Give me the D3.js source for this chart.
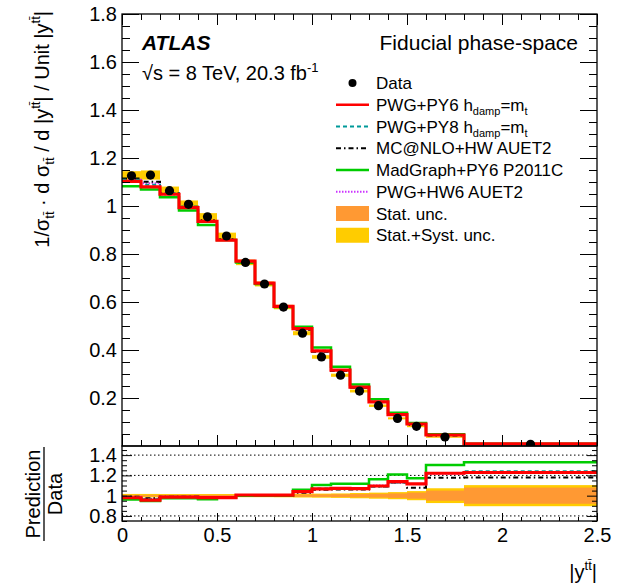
<!DOCTYPE html>
<html><head><meta charset="utf-8">
<script src="https://cdn.jsdelivr.net/npm/d3@7"></script>
<style>
body{margin:0;background:#fff}
svg{display:block}
text{font-family:"Liberation Sans",Arial,Helvetica,sans-serif;fill:#000}
</style></head>
<body><svg id="c" width="633" height="584"></svg>
<script>
// ---- data ----
const binEdges = [0,0.1,0.2,0.3,0.4,0.5,0.6,0.7,0.8,0.9,1.0,1.1,1.2,1.3,1.4,1.5,1.6,1.8,2.5];
const dataVals = [1.126,1.129,1.064,1.007,0.955,0.875,0.765,0.675,0.579,0.470,0.371,0.295,0.229,0.168,0.115,0.082,0.0375,0.0070];
const statUnc  = [0.008,0.008,0.008,0.008,0.008,0.008,0.008,0.009,0.010,0.011,0.012,0.014,0.016,0.018,0.022,0.030,0.050,0.080];
const totUnc   = [0.017,0.017,0.016,0.016,0.016,0.016,0.015,0.015,0.016,0.018,0.020,0.022,0.026,0.030,0.035,0.045,0.073,0.104];
const pwgPy6   = [1.103,1.080,1.049,0.993,0.936,0.858,0.770,0.679,0.582,0.489,0.396,0.316,0.245,0.184,0.131,0.0916,0.0458,0.0086];
const pwgPy8   = [1.109,1.089,1.053,0.997,0.938,0.859,0.769,0.678,0.582,0.489,0.397,0.316,0.245,0.183,0.130,0.0914,0.0459,0.00868];
const mcnloHw  = [1.115,1.101,1.053,0.997,0.941,0.862,0.765,0.675,0.579,0.484,0.393,0.313,0.243,0.183,0.130,0.0884,0.0441,0.00825];
const madPy6   = [1.082,1.069,1.036,0.981,0.921,0.858,0.765,0.675,0.579,0.497,0.410,0.330,0.256,0.195,0.139,0.0961,0.0488,0.0093];
const pwgHw6   = [1.109,1.095,1.048,0.992,0.936,0.858,0.768,0.678,0.581,0.489,0.395,0.315,0.245,0.185,0.130,0.0914,0.0456,0.00858];
const mainYTicks = [0.2,0.4,0.6,0.8,1.0,1.2,1.4,1.6,1.8];
const ratioYTicks = [0.8,1.0,1.2,1.4];
const xTicks = [0,0.5,1,1.5,2,2.5];

const models = [
  {name:"PWG+HW6 AUET2", vals:pwgHw6, color:"#cc33ff", width:2, dash:"1.5,1.5"},
  {name:"MC@NLO+HW AUET2", vals:mcnloHw, color:"#000000", width:2, dash:"5,3,1.5,3"},
  {name:"PWG+PY8", vals:pwgPy8, color:"#009999", width:2, dash:"4,3"},
  {name:"MadGraph+PY6 P2011C", vals:madPy6, color:"#00cc00", width:2.5, dash:null},
  {name:"PWG+PY6", vals:pwgPy6, color:"#ff0000", width:3.2, dash:null}
];
const colStat = "#ff9933", colTot = "#ffcc00";

// ---- layout ----
const L=122, R=597, T=14, MB=446, RB=521;
const svg = d3.select("#c");
const x = d3.scaleLinear().domain([0,2.5]).range([L,R]);
const y = d3.scaleLinear().domain([0,1.8]).range([MB,T]);
const yr = d3.scaleLinear().domain([0.75,1.49]).range([RB,MB]);

const defs = svg.append("defs");
defs.append("clipPath").attr("id","cm").append("rect").attr("x",L).attr("y",T).attr("width",R-L).attr("height",MB-T);
defs.append("clipPath").attr("id","cr").append("rect").attr("x",L).attr("y",MB).attr("width",R-L).attr("height",RB-MB);

const bins = dataVals.map((d,i)=>({i, x0:binEdges[i], x1:binEdges[i+1], d}));

function stepPts(vals){
  const pts=[];
  vals.forEach((v,i)=>{pts.push([binEdges[i],v]);pts.push([binEdges[i+1],v]);});
  return pts;
}

// ---- main panel ----
const gm = svg.append("g").attr("clip-path","url(#cm)");
gm.selectAll("rect.stat").data(bins).join("rect")
  .attr("x",b=>x(b.x0)).attr("width",b=>x(b.x1)-x(b.x0))
  .attr("y",b=>y(b.d*(1+statUnc[b.i]))).attr("height",b=>y(b.d*(1-statUnc[b.i]))-y(b.d*(1+statUnc[b.i])))
  .attr("fill",colStat);
gm.selectAll("rect.tot").data(bins).join("rect")
  .attr("x",b=>x(b.x0)).attr("width",b=>x(b.x1)-x(b.x0))
  .attr("y",b=>y(b.d*(1+totUnc[b.i]))).attr("height",b=>y(b.d*(1-totUnc[b.i]))-y(b.d*(1+totUnc[b.i])))
  .attr("fill",colTot);
const lineM = d3.line().x(p=>x(p[0])).y(p=>y(p[1]));
models.forEach(m=>{
  gm.append("path").attr("d",lineM(stepPts(m.vals))).attr("fill","none")
    .attr("stroke",m.color).attr("stroke-width",m.width).attr("stroke-dasharray",m.dash);
});
gm.selectAll("circle").data(bins).join("circle")
  .attr("cx",b=>x((b.x0+b.x1)/2)).attr("cy",b=>y(b.d)).attr("r",4.6).attr("fill","#000");

// ---- ratio panel ----
const gr = svg.append("g").attr("clip-path","url(#cr)");
[0.8,1.0,1.2,1.4].forEach(v=>{
  gr.append("line").attr("x1",L).attr("x2",R).attr("y1",yr(v)).attr("y2",yr(v))
    .attr("stroke","#000").attr("stroke-width",1).attr("stroke-dasharray","1.5,2.5");
});
gr.selectAll("rect.tot").data(bins).join("rect")
  .attr("x",b=>x(b.x0)).attr("width",b=>x(b.x1)-x(b.x0))
  .attr("y",b=>yr(1+totUnc[b.i])).attr("height",b=>yr(1-totUnc[b.i])-yr(1+totUnc[b.i]))
  .attr("fill",colTot);
gr.selectAll("rect.stat").data(bins).join("rect")
  .attr("x",b=>x(b.x0)).attr("width",b=>x(b.x1)-x(b.x0))
  .attr("y",b=>yr(1+statUnc[b.i])).attr("height",b=>yr(1-statUnc[b.i])-yr(1+statUnc[b.i]))
  .attr("fill",colStat);
const lineR = d3.line().x(p=>x(p[0])).y(p=>yr(p[1]));
models.forEach(m=>{
  const ratio = m.vals.map((v,i)=>v/dataVals[i]);
  gr.append("path").attr("d",lineR(stepPts(ratio))).attr("fill","none")
    .attr("stroke",m.color).attr("stroke-width",m.width).attr("stroke-dasharray",m.dash);
});

// ---- axes ----
function minorVals(lo,hi,step,majors){
  const out=[];
  for(let k=Math.round(lo/step);k<=Math.round(hi/step);k++){
    const v=+(k*step).toFixed(4);
    if(!majors.some(m=>Math.abs(m-v)<1e-6)) out.push(v);
  }
  return out;
}
const fmt = d=>String(+d.toFixed(2));
function styleAxis(g,fs){
  g.select(".domain").remove();
  g.selectAll("line").attr("stroke","#000").attr("stroke-width",1);
  g.selectAll("text").style("font-family",'"Liberation Sans",Arial,sans-serif').style("font-size",fs+"px").attr("fill","#000");
}
// main y
svg.append("g").attr("transform",`translate(${L},0)`)
  .call(d3.axisLeft(y).tickValues(mainYTicks).tickSizeInner(-17).tickSizeOuter(0).tickPadding(5).tickFormat(fmt))
  .call(g=>styleAxis(g,20));
svg.append("g").attr("transform",`translate(${L},0)`)
  .call(d3.axisLeft(y).tickValues(minorVals(0,1.8,0.05,mainYTicks.concat([0]))).tickSizeInner(-8).tickSizeOuter(0).tickFormat(""))
  .call(g=>styleAxis(g,20));
svg.append("g").attr("transform",`translate(${R},0)`)
  .call(d3.axisRight(y).tickValues(mainYTicks).tickSizeInner(-17).tickSizeOuter(0).tickFormat(""))
  .call(g=>styleAxis(g,20));
svg.append("g").attr("transform",`translate(${R},0)`)
  .call(d3.axisRight(y).tickValues(minorVals(0,1.8,0.05,mainYTicks.concat([0]))).tickSizeInner(-8).tickSizeOuter(0).tickFormat(""))
  .call(g=>styleAxis(g,20));
// main x (bottom & top)
const xMinor = minorVals(0,2.5,0.1,xTicks);
svg.append("g").attr("transform",`translate(0,${MB})`)
  .call(d3.axisBottom(x).tickValues(xTicks).tickSizeInner(-11).tickSizeOuter(0).tickFormat(""))
  .call(g=>styleAxis(g,20));
svg.append("g").attr("transform",`translate(0,${MB})`)
  .call(d3.axisBottom(x).tickValues(xMinor).tickSizeInner(-6).tickSizeOuter(0).tickFormat(""))
  .call(g=>styleAxis(g,20));
svg.append("g").attr("transform",`translate(0,${T})`)
  .call(d3.axisTop(x).tickValues(xTicks).tickSizeInner(-11).tickSizeOuter(0).tickFormat(""))
  .call(g=>styleAxis(g,20));
svg.append("g").attr("transform",`translate(0,${T})`)
  .call(d3.axisTop(x).tickValues(xMinor).tickSizeInner(-6).tickSizeOuter(0).tickFormat(""))
  .call(g=>styleAxis(g,20));
// ratio y
const rMinor = minorVals(0.75,1.45,0.05,ratioYTicks);
svg.append("g").attr("transform",`translate(${L},0)`)
  .call(d3.axisLeft(yr).tickValues(ratioYTicks).tickSizeInner(-10).tickSizeOuter(0).tickPadding(5).tickFormat(fmt))
  .call(g=>styleAxis(g,20));
svg.append("g").attr("transform",`translate(${L},0)`)
  .call(d3.axisLeft(yr).tickValues(rMinor).tickSizeInner(-5).tickSizeOuter(0).tickFormat(""))
  .call(g=>styleAxis(g,20));
svg.append("g").attr("transform",`translate(${R},0)`)
  .call(d3.axisRight(yr).tickValues(ratioYTicks).tickSizeInner(-10).tickSizeOuter(0).tickFormat(""))
  .call(g=>styleAxis(g,20));
svg.append("g").attr("transform",`translate(${R},0)`)
  .call(d3.axisRight(yr).tickValues(rMinor).tickSizeInner(-5).tickSizeOuter(0).tickFormat(""))
  .call(g=>styleAxis(g,20));
// ratio x
svg.append("g").attr("transform",`translate(0,${RB})`)
  .call(d3.axisBottom(x).tickValues(xTicks).tickSizeInner(-8).tickSizeOuter(0).tickPadding(7).tickFormat(fmt))
  .call(g=>styleAxis(g,20));
svg.append("g").attr("transform",`translate(0,${RB})`)
  .call(d3.axisBottom(x).tickValues(xMinor).tickSizeInner(-4).tickSizeOuter(0).tickFormat(""))
  .call(g=>styleAxis(g,20));

// frames
svg.append("rect").attr("x",L).attr("y",T).attr("width",R-L).attr("height",MB-T).attr("fill","none").attr("stroke","#000").attr("stroke-width",1.3);
svg.append("rect").attr("x",L).attr("y",MB).attr("width",R-L).attr("height",RB-MB).attr("fill","none").attr("stroke","#000").attr("stroke-width",1.3);

// ---- titles ----
const TT = "tt\u0304";
// y title main
const yt = svg.append("text").attr("transform","translate(49,11) rotate(-90)").attr("text-anchor","end").style("font-size","20px");
yt.append("tspan").text("1/σ");
yt.append("tspan").attr("dy",5).style("font-size","13px").text(TT);
yt.append("tspan").attr("dy",-5).text(" · d σ");
yt.append("tspan").attr("dy",5).style("font-size","13px").text(TT);
yt.append("tspan").attr("dy",-5).text(" / d |y");
yt.append("tspan").attr("dy",-9).style("font-size","13px").text(TT);
yt.append("tspan").attr("dy",9).text("| / Unit |y");
yt.append("tspan").attr("dy",-9).style("font-size","13px").text(TT);
yt.append("tspan").attr("dy",9).text("|");
// ratio y title
svg.append("text").attr("transform","translate(40,494) rotate(-90)").attr("text-anchor","middle").style("font-size","20px").text("Prediction");
svg.append("text").attr("transform","translate(62,494) rotate(-90)").attr("text-anchor","middle").style("font-size","20px").text("Data");
svg.append("line").attr("x1",44).attr("x2",44).attr("y1",447).attr("y2",541).attr("stroke","#000").attr("stroke-width",1.3);
// x title
const xt = svg.append("text").attr("x",597).attr("y",579).attr("text-anchor","end").style("font-size","20px");
xt.append("tspan").text("|y");
xt.append("tspan").attr("dy",-9).style("font-size","13px").text(TT);
xt.append("tspan").attr("dy",9).text("|");

// ATLAS labels
svg.append("text").attr("x",142).attr("y",50).style("font-size","21px").style("font-weight","bold").style("font-style","italic").text("ATLAS");
const en = svg.append("text").attr("x",142).attr("y",80).style("font-size","20px");
en.append("tspan").text("√s = 8 TeV, 20.3 fb");
en.append("tspan").attr("dy",-8).style("font-size","13px").text("-1");
svg.append("text").attr("x",578).attr("y",50).attr("text-anchor","end").style("font-size","21px").text("Fiducial phase-space");

// ---- legend ----
const lg = svg.append("g");
const ly0 = 83, ldy = 21.75, lx0 = 336, lx1 = 369, ltx = 376;
const legendItems = [
  {type:"dot", label:[["Data"]]},
  {type:"line", m:models[4], label:[["PWG+PY6 h"],["damp","sub"],["=m"],["t","sub"]]},
  {type:"line", m:models[2], label:[["PWG+PY8 h"],["damp","sub"],["=m"],["t","sub"]]},
  {type:"line", m:models[1], label:[["MC@NLO+HW AUET2"]]},
  {type:"line", m:models[3], label:[["MadGraph+PY6 P2011C"]]},
  {type:"line", m:models[0], label:[["PWG+HW6 AUET2"]]},
  {type:"box", color:colStat, label:[["Stat. unc."]]},
  {type:"box", color:colTot, label:[["Stat.+Syst. unc."]]}
];
legendItems.forEach((it,k)=>{
  const cy = ly0 + k*ldy;
  if(it.type==="dot") lg.append("circle").attr("cx",(lx0+lx1)/2).attr("cy",cy).attr("r",4).attr("fill","#000");
  if(it.type==="line") lg.append("line").attr("x1",lx0).attr("x2",lx1).attr("y1",cy).attr("y2",cy)
      .attr("stroke",it.m.color).attr("stroke-width",Math.min(it.m.width,2.5)).attr("stroke-dasharray",it.m.dash);
  if(it.type==="box") lg.append("rect").attr("x",lx0).attr("y",cy-7.5).attr("width",lx1-lx0).attr("height",15).attr("fill",it.color);
  const t = lg.append("text").attr("x",ltx).attr("y",cy+6).style("font-size","17px");
  let prevSub=false;
  it.label.forEach(([s,kind])=>{
    const sp = t.append("tspan").text(s);
    if(kind==="sub"){ sp.style("font-size","11px").attr("dy",prevSub?0:4); prevSub=true; }
    else { if(prevSub) sp.attr("dy",-4); prevSub=false; }
  });
});
</script>
</body></html>
